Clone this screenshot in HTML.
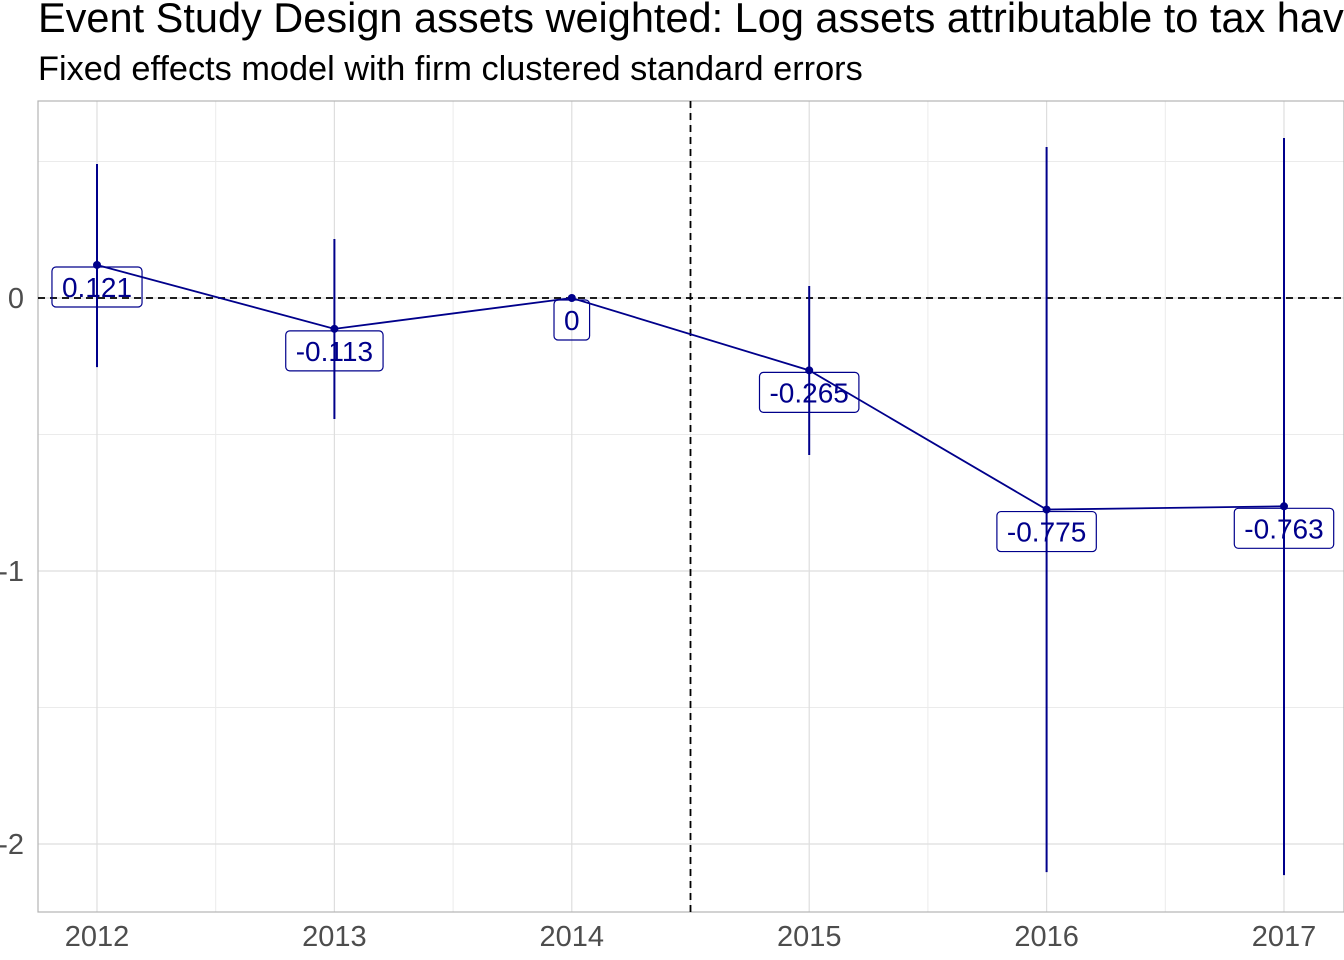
<!DOCTYPE html>
<html><head><meta charset="utf-8"><style>
html,body{margin:0;padding:0;background:#fff;overflow:hidden;}
svg{display:block;font-family:"Liberation Sans",sans-serif;}
</style></head><body>
<svg id="chart" width="1344" height="960">
<text x="38" y="32" font-size="41.5" fill="#000">Event Study Design assets weighted: Log assets attributable to tax havens</text>
<text x="38" y="80" font-size="34.3" fill="#000">Fixed effects model with firm clustered standard errors</text>
<g id="grid"></g>
<g id="marks"></g>
</svg>
<script>
const years = [2012, 2013, 2014, 2015, 2016, 2017];
const estimates = [0.121, -0.113, 0, -0.265, -0.775, -0.763];
const ciLow = [-0.253, -0.443, null, -0.575, -2.103, -2.114];
const ciHigh = [0.491, 0.216, null, 0.044, 0.553, 0.586];
const yTicks = [0, -1, -2];
const yMinor = [0.5, -0.5, -1.5];
const eventLine = 2014.5;

const NS='http://www.w3.org/2000/svg';
const L=38,R=1344,T=101,B=912;
const xs=y=>97+(y-2012)*(1284-97)/5;
const ys=v=>298-v*273;
const grid=document.getElementById('grid'), marks=document.getElementById('marks');
function mk(tag,attrs,parent){const e=document.createElementNS(NS,tag);for(const k in attrs)e.setAttribute(k,attrs[k]);parent.appendChild(e);return e;}

yMinor.forEach(v=>{const l=mk('line',{x1:L,x2:R,y1:ys(v),y2:ys(v),stroke:'#ebebeb','stroke-width':1},grid);

});
years.slice(0,-1).forEach(y=>{const x=xs(y+0.5);const l=mk('line',{x1:x,x2:x,y1:T,y2:B,stroke:'#ebebeb','stroke-width':1},grid);

});
yTicks.forEach(v=>{const l=mk('line',{x1:L,x2:R,y1:ys(v),y2:ys(v),stroke:'#dedede','stroke-width':1.2},grid);


const t=mk('text',{x:L-14,y:ys(v)+10,'font-size':29,fill:'#4d4d4d','text-anchor':'end'},grid);t.textContent=v;

});
years.forEach(y=>{const l=mk('line',{x1:xs(y),x2:xs(y),y1:T,y2:B,stroke:'#dedede','stroke-width':1.2},grid);


const t=mk('text',{x:xs(y),y:946,'font-size':29,fill:'#4d4d4d','text-anchor':'middle'},grid);t.textContent=y;

});
const frame=mk('rect',{x:L,y:T,width:R-L,height:B-T,fill:'none',stroke:'#b3b3b3','stroke-width':1.2},grid);



const z=mk('line',{x1:L,x2:R,y1:ys(0),y2:ys(0),stroke:'#000','stroke-width':1.8,'stroke-dasharray':'7,5'},marks);


const ev=mk('line',{x1:xs(eventLine),x2:xs(eventLine),y1:T,y2:B,stroke:'#000','stroke-width':1.8,'stroke-dasharray':'7,5'},marks);



years.forEach((y,i)=>{if(ciLow[i]===null)return;
const l=mk('line',{x1:xs(y),x2:xs(y),y1:ys(ciHigh[i]),y2:ys(ciLow[i]),stroke:'#00008b','stroke-width':2},marks);

});
const pl=mk('polyline',{points:years.map((y,i)=>xs(y)+','+ys(estimates[i])).join(' '),fill:'none',stroke:'#00008b','stroke-width':1.8},marks);


years.forEach((y,i)=>{const c=mk('circle',{cx:xs(y),cy:ys(estimates[i]),r:4,fill:'#00008b'},marks);

});
years.forEach((y,i)=>{const cx=xs(y),cy=ys(estimates[i])+22;
const g=mk('g',{},marks);


const r=mk('rect',{fill:'none',stroke:'#00008b','stroke-width':1.2,rx:4},g);
const t=mk('text',{x:cx,y:cy+10,'font-size':28,fill:'#00008b','text-anchor':'middle'},g);t.textContent=estimates[i];
const bb=t.getBBox();const w=bb.width+20,h=40;
r.setAttribute('x',cx-w/2);r.setAttribute('y',cy-h/2);r.setAttribute('width',w);r.setAttribute('height',h);});
</script>
</body></html>
